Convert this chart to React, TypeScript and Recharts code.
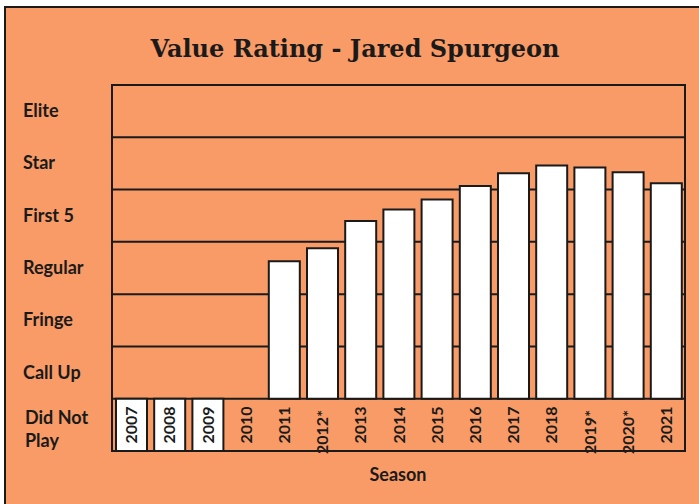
import { BarChart, Bar, XAxis, YAxis, CartesianGrid, ReferenceArea } from 'recharts'

const seasons = ['2007', '2008', '2009', '2010', '2011', '2012*', '2013', '2014', '2015', '2016', '2017', '2018', '2019*', '2020*', '2021']
// -1 = did not play, null = no entry
const ratings = [-1, -1, -1, null, 2.63, 2.88, 3.4, 3.62, 3.81, 4.07, 4.31, 4.46, 4.42, 4.33, 4.12]
const levels = ['Did Not Play', 'Call Up', 'Fringe', 'Regular', 'First 5', 'Star', 'Elite']
const levelTicks = [-0.5, 0.5, 1.5, 2.5, 3.5, 4.5, 5.5]
const bandLines = [0, 1, 2, 3, 4, 5]

const ORANGE = '#F99B66'
const INK = '#1a1a1a'
const LABEL_FONT = 'Lato, "Open Sans", sans-serif'

const data = seasons.map((s, i) => ({ season: s, rating: ratings[i] }))

function LevelTick({ y, index }: any) {
  const label = levels[index]
  if (label === 'Did Not Play') {
    return (
      <text x={25} y={y} fontFamily={LABEL_FONT} fontWeight={700} fontSize={18} fill={INK}>
        <tspan x={25} dy={-1}>Did Not</tspan>
        <tspan x={25} dy={23}>Play</tspan>
      </text>
    )
  }
  return (
    <text x={23} y={y} dy={6} fontFamily={LABEL_FONT} fontWeight={700} fontSize={18} fill={INK}>
      {label}
    </text>
  )
}

function SeasonTick({ x, y, payload }: any) {
  const label: string = payload.value
  const cy = y - 26 + (label.length - 4) * 7
  return (
    <text
      x={x}
      y={cy}
      transform={`rotate(-90 ${x} ${cy})`}
      textAnchor="middle"
      dy={6}
      fontFamily={LABEL_FONT}
      fontWeight={700}
      fontSize={16}
      fill={INK}
    >
      {label}
    </text>
  )
}

export default function App() {
  return (
    <div style={{ position: 'absolute', left: 0, top: 0, width: 699, height: 504, overflow: 'hidden', background: '#fff' }}>
      <div
        style={{
          position: 'absolute',
          left: 4,
          top: 6,
          width: 720,
          height: 520,
          background: ORANGE,
          border: `2px solid ${INK}`,
        }}
      />
      <div
        style={{
          position: 'absolute',
          left: 0,
          width: 710,
          top: 34,
          textAlign: 'center',
          fontFamily: '"DejaVu Serif", serif',
          fontWeight: 700,
          fontSize: 24,
          color: INK,
          lineHeight: '30px',
        }}
      >
        Value Rating - Jared Spurgeon
      </div>
      <div style={{ position: 'absolute' as const, left: 0, top: 0 }}>
        <BarChart
          width={699}
          height={504}
          data={data}
          margin={{ top: 85, right: 14, bottom: 0, left: 0 }}
          barSize={31}
        >
          <CartesianGrid
            vertical={false}
            horizontalValues={bandLines}
            stroke={INK}
            strokeWidth={2}
          />
          <ReferenceArea y1={-1} y2={6} fill="none" stroke={INK} strokeWidth={2} ifOverflow="visible" />
          <YAxis
            type="number"
            domain={[-1, 6]}
            ticks={levelTicks}
            width={112}
            axisLine={false}
            tickLine={false}
            tick={<LevelTick />}
            interval={0}
          />
          <XAxis
            dataKey="season"
            height={53}
            axisLine={false}
            tickLine={false}
            tickSize={0}
            tickMargin={0}
            interval={0}
            tick={<SeasonTick />}
          />
          <Bar dataKey="rating" fill="#fff" stroke={INK} strokeWidth={2} isAnimationActive={false} />
        </BarChart>
      </div>
      <div
        style={{
          position: 'absolute',
          left: 348,
          width: 100,
          top: 462,
          textAlign: 'center',
          fontFamily: LABEL_FONT,
          fontWeight: 700,
          fontSize: 18,
          color: INK,
          lineHeight: '24px',
        }}
      >
        Season
      </div>
    </div>
  )
}
